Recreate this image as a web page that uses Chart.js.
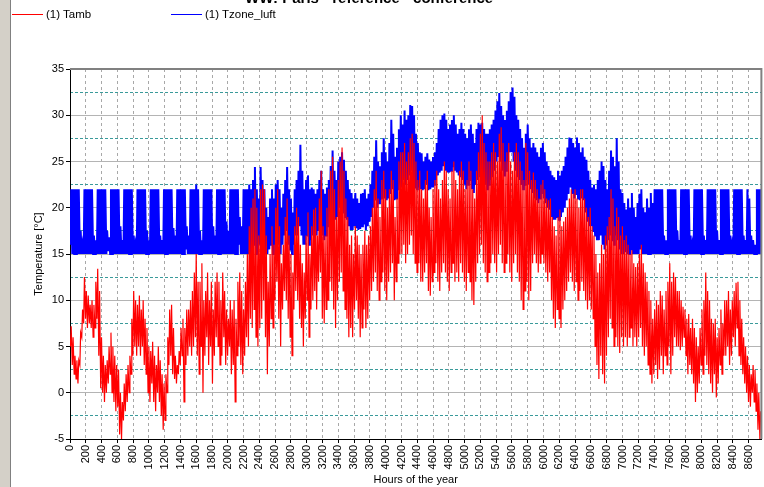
<!DOCTYPE html>
<html lang="en">
<head>
<meta charset="UTF-8">
<title>Paris - reference - conference</title>
<script src="https://cdn.jsdelivr.net/npm/chart.js"></script>
<style>
  body { margin: 0; background: #fff; font-family: "Liberation Sans", Arial, sans-serif; overflow: hidden; }
  #wrap { position: relative; width: 764px; height: 487px; overflow: hidden; }
  #side { position: absolute; left: 0; top: 0; width: 10px; height: 487px; background: #d4d0c8; border-right: 1px solid #808080; z-index: 2; }
  #title { position: absolute; left: 245px; top: -11px; font-weight: bold; font-size: 15px; white-space: nowrap; color: #000; }
  .leg { position: absolute; top: 8px; font-size: 11.5px; color: #000; white-space: nowrap; }
  canvas { position: absolute; left: 0; top: 0; }
</style>
</head>
<body>
<div id="wrap">
  <canvas id="chart" width="764" height="487"></canvas>
  <div id="side"></div>
  <div id="title">WW: Paris - reference - conference</div>
  <div class="leg" style="left:46px">(1) Tamb</div>
  <div class="leg" style="left:205px">(1) Tzone_luft</div>
</div>

<script>
  // daily low / high, one value per day (365 days)
  const tambLow = [
    5,3,2,1.5,1,3,6,7.5,8,7,
    7.5,7,6,7,8,4,0.5,0,-1,0,
    1,2,0,-1,-2,-1.5,-4.5,-5,-3,-2,
    -1,0,2,4,5,4,5,4,5,3,
    2,0,-1,1,-1,-2,0,-1,-2.5,-4,
    -3,0,3,4,2,1.5,1,2,3,4,
    -1,3,4,5,4,5,6,4,2,5,
    0,4,6,3,5,1,4,6,5,3,
    4,6,3,4,5,2,3,-1,4,5,
    3,2,4,6,5,8,7,9,6,5,
    7,8,10,6,2,5,8,7,10,12,
    8,5,9,11,10,8,6,4,9,11,
    10,8,7,5,8,10,6,9,10,11,
    9,12,13,8,7.5,9,10,12,11,9,
    7,10,12,13,11,9,8,6,7,6,
    9,10,8,6,7,9,7,8,10,11,
    12,13,11,10,12,13,11,10,12,13,
    14,10,12,14,15,15,16,14,15,16,
    17,15,14,13,14,12,12,13,14,11,
    10.5,12,13,14,12,11,13,14,13,12,
    11,13,14,12,13,12,14,13,12,11,
    13,12,10,9.5,12,14,15,16,14,13,
    12,13,14,15,14,13,15,16,14,13,
    14,15,13,12,14,15,13,12,10,9,
    11,12,10,11,14,15,14,13,14,15,
    14,13,12,13,10,8,7,9,8,7,
    9,10,11,12,13,12,11,12,10,11,
    12,11,10,9,10,9,8,5,3,1.5,
    4,2,1,4,6,8,7,5,6,5,
    4.3,6,5,6,5,6,7,5,6,5,
    6,7,5,4,5,3,2,1,2,3,
    1.5,2.5,4,2,4,3,5,2,4,6,
    5,5,4.6,5,6,4,2,3,2,1,
    -1,0,1,3,2,4,3,2,1,0,
    2,-0.5,1,3,2,4,4,5,3,4,
    6,5,7,4,3,2,1,0,-1,-1.5,
    0,-1,-2,-4,-5
  ];
  const tambHigh = [
    7.2,6,4,3.5,3.5,6.5,9,12.5,11,10.5,
    9.5,10,9.5,12,13.4,11,6,4,3,3.5,
    5,6.5,5,4,3,2.5,0,-1,1,2,
    3,4,8,11,10,9.5,10.5,9,10,8,
    7,5,4.5,5.5,4,3,5,3.5,2,1,
    2,6,9,9.5,7,4,3,4.5,7,8,
    7,9,9,10,11,13,15,12,12,14,
    10,11,13,10,12,9,12,13,12,10,
    13,11,9,8,10,9,10,8,12,13,
    11,9,12,15,18,20,21,22,20,17,
    22,22.5,22,17,12,15,18,16,20,22,
    18,14,16,19,21,17,15,13,18,20,
    19,16,14,13,17,19.5,15,18,19.8,20,
    17,21,24,18,17,20,22,24,25.5,22,
    19,23,25,26.5,24,21,19,16,17,15,
    18,17,16,15,16,17.5,16,17,18,20,
    22,24,21,19,23,24,22,20,22,24,
    23,19,21,25,26,26,27,25,26,27.5,
    28,27,25,23,24,22,21,23,24,20,
    19,22,23,24,22,21,23,25,24,22,
    21,24,25,23,22,24,25,24,22,23,
    25,24,22,21,24,26,28,30,27,26,
    25,25,26,27,26,25,28,28.7,27,25,
    26,27,25,24,26,27,26,25,24,23,
    27,26,24,23,23.8,23,22,21,22.5,23,
    22,21,20.8,21,19,18,17,19,19.8,18,
    18.5,19,20,21,22,21.5,22,21,20,22,
    22,21,20,19,20,18,17,15,13,14,
    16,15,17,18,19,22,21,18,20,19,
    17,18,16.5,17,16,15,15.4,14,13.6,14,
    15,16,14,13,12,11,10,8,9,10,
    9.5,11,10.5,9,11,12,14,12,13,12.5,
    11,11,10,9.3,9,8,8.5,7,8,7,
    6,5,7,9,10,13,11,10,8,7.5,
    8,6,7,9,7.5,10,10,11,9,10,
    11,11.9,12,10,8,6,5,4,3,2,
    3,2.5,1,0,-2
  ];

  // zone temperature: winter weeks (days 0-94), summer (95-307), winter weeks (308-364)
  const tzoneLowWinter1 = [
    16,15,15,15,15,15,15,
    15,15,15,15,15,15,15,
    15,15,15,15,15,15,15.3,
    15,15,15,15,15,15,15,
    15,15,15,15,15,15,15,
    15,15,15,15,15,15,15,
    15,15,15,15,15,15,15,
    15,15,15,15,15,15,15,
    15,15,15,15,15,15.5,15,
    15,15,15,15,15,15,15,
    15,15,15,15,15,15,15,
    15,15,15,15,15,15,15,
    15,15,15,15,15,16,15,
    15,15,15,15
  ];
  const tzoneHighWinter1 = [
    22,22,22,22,22,17.5,16,
    22,22,22,22,22,17,16.5,
    22,22,22,22,22,17.5,16.8,
    22,22,22,22,22,18,16.5,
    22,22,22,22,22,17,16,
    22,22,22,22,22,17.5,16.5,
    22,22,22,22,22,17,16.5,
    22,22,22,22,22,17.8,17,
    22,22,22,22,22,18,17,
    22,22,22,22.5,22,17.5,16.5,
    22,22,22,22,22,18,17,
    22,22,22,22,22,18.5,17.5,
    22,22,22,22,22,19,18,
    22,22,22,22.5
  ];
  const tzoneLowSummer = [
    15,15.5,16,15,15,16,17,16,15,15,
    15.5,16,15,16,17,16,15,16,17,17.5,
    16,15.5,15,16,17,17,18,17,16,16,
    17,16,16.5,17,16.5,17,17.5,18,17,16.5,
    17,18,18.7,19,18.5,18.7,19,20,20,19.5,
    19,18.7,18,17.6,17.6,18,17.8,17.6,17.7,18,
    18.2,17.6,18,18.5,19,20,20.8,20,20.5,21,
    21,21,20.8,21,21.5,22,20.8,21,22,22.5,
    22.2,23,22.5,23,23.5,24,23,22.2,22,22.2,
    22,21.9,22,22.5,21.9,22,22.3,22.5,23,23.5,
    23.8,24,24.5,24,23.8,23.8,24,24.5,24,23.8,
    23.5,23.3,23,22.5,22,22.5,23,22,21.6,22.5,
    23,23.3,23.5,23,22.5,22,22.5,23,23.3,24,
    25,25.5,25,24,23.5,24,25,26,26,25,
    24,23.3,23,22.5,22,22.5,23,22.5,22,21.6,
    21,20.8,20.5,21,21.6,21,20.5,20,19.8,19,
    18.7,18.7,19,18.7,19,19.5,20,20.8,21.5,22.2,
    21.5,21,21.5,21,20.8,21,20.8,19.5,18.5,18,
    18,17.5,17,16.5,16.5,17,16,15.5,16,16.5,
    17,16.5,16,17,16.5,15.5,15,15,15.2,15,
    15,15.5,15,15,15,15,15.5,15,15,15,
    15,15,15
  ];
  const tzoneHighSummer = [
    22,23,24.4,22,21,24.4,23,22,20,19,
    21,22,21,22.5,23,22,20,21.5,23,24.4,
    22,21,19.5,22,23,24,26.8,24,22,23,
    23.5,22,22.2,22,21.5,22,23,24,22,21.5,
    22.2,23,24.5,26.2,24,23,25,25.5,26,25.2,
    24,23,22,21.6,21,21.6,21,20.5,21.5,21.6,
    22,21,21.5,22.5,24,25.5,27.3,25,24.5,26,
    27.5,26,25,27,29.5,28,25.5,26.5,28.5,30,
    29,30.5,29.5,30,31.1,31,30,28,27,26,
    25.9,25,25.5,25.9,25.2,25,25.5,26,27,28.5,
    29.5,30,30.2,29.5,28.5,29,29.5,30,29,28,
    28.5,29.2,28.5,28,27.5,28.5,29,28,27,28.5,
    29.2,29,29.2,28.5,28,28,28.5,29,29.5,30.5,
    31.5,32.4,31,30,29.5,30.5,31.5,32.5,33,32,
    30,29.5,28.5,27.5,26.5,28,29,27.5,26.5,27,
    26.5,26,25.5,26.5,27,26,25,24.5,24,23.5,
    23.3,23,24,23.5,24,24.5,25.5,26.5,27.6,27.5,
    27,26.5,27.6,27,26,26.5,25.5,25.2,24,23,
    22.2,22.5,22,23,24,25,24.5,23,22,24,
    26.2,25.5,24.5,27.5,25,22,21.6,20.5,19.8,21,
    20,21.6,20,19,20.5,21.5,22,20,19.5,21,
    20,21.6,20.5
  ];
  const tzoneLowWinter2 = [
    15,15,15,15,15,15,15,
    15,15,15,15,15,15,15,
    15,15,15,15,15,15,15,
    15,15,15,15,15,15,15,
    15,15,15,15,15,15,15,
    15,15,15,15,15,15,15,
    15,15,15,15,15,15,15,
    15,15,15,15,15,15,15,15
  ];
  const tzoneHighWinter2 = [
    22,22,22,22,22,17,16.5,
    22,22,22,22,22,17.5,16.5,
    22,22,22,22,22,17,16,
    22,22,22,22,22,17,16.5,
    22,22,22,22,22,17.5,16.5,
    22,22,22,22,22,17,16,
    22,22,22,22,22,17,16.5,
    22,21,17,16.5,16,22,22,22
  ];
  const tzoneLow = [...tzoneLowWinter1, ...tzoneLowSummer, ...tzoneLowWinter2];
  const tzoneHigh = [...tzoneHighWinter1, ...tzoneHighSummer, ...tzoneHighWinter2];

  const xTicks = [0,200,400,600,800,1000,1200,1400,1600,1800,2000,2200,2400,2600,2800,3000,
    3200,3400,3600,3800,4000,4200,4400,4600,4800,5000,5200,5400,5600,5800,6000,6200,
    6400,6600,6800,7000,7200,7400,7600,7800,8000,8200,8400,8600];
  const dashedLines = [-2.5, 2.5, 7.5, 12.5, 17.5, 22.5, 27.5, 32.5];
  const lowHour = 5, highHour = 15; // hour of the day for the low and the high point

  [tambLow, tambHigh, tzoneLow, tzoneHigh].forEach((a, i) => {
    if (a.length !== 365) throw new Error('array ' + i + ' has ' + a.length + ' values');
  });

  function dailyPoints(low, high) {
    const pts = [];
    for (let d = 0; d < low.length; d++) {
      pts.push({ x: d * 24 + lowHour, y: low[d] });
      pts.push({ x: d * 24 + highHour, y: high[d] });
    }
    return pts;
  }

  // gray frame on top/right of the plot, plus the legend line swatches
  const framePlugin = {
    id: 'frame',
    afterDraw(chart) {
      const { ctx, chartArea: a } = chart;
      ctx.save();
      ctx.strokeStyle = '#808080';
      ctx.lineWidth = 2;
      ctx.beginPath();
      ctx.moveTo(a.left, a.top);
      ctx.lineTo(a.right, a.top);
      ctx.lineTo(a.right, a.bottom);
      ctx.stroke();
      ctx.fillStyle = chart.data.datasets[0].borderColor;
      ctx.fillRect(12, 14, 31, 1);
      ctx.fillStyle = chart.data.datasets[1].borderColor;
      ctx.fillRect(171, 14, 31, 1);
      ctx.restore();
    }
  };

  const font = { family: '"Liberation Sans", Arial, sans-serif', size: 11 };

  new Chart(document.getElementById('chart'), {
    type: 'line',
    data: {
      datasets: [
        { label: '(1) Tamb', data: dailyPoints(tambLow, tambHigh), borderColor: '#ff0000', borderWidth: 1.2, pointRadius: 0, fill: false, tension: 0 },
        { label: '(1) Tzone_luft', data: dailyPoints(tzoneLow, tzoneHigh), borderColor: '#0000ff', borderWidth: 2, pointRadius: 0, fill: false, tension: 0 }
      ]
    },
    options: {
      responsive: false,
      animation: false,
      parsing: false,
      layout: { padding: { left: 32, right: 2, top: 69, bottom: 0 } },
      plugins: { legend: { display: false }, tooltip: { enabled: false } },
      scales: {
        x: {
          type: 'linear', min: 0, max: 8760,
          afterBuildTicks: s => { s.ticks = xTicks.map(v => ({ value: v })); },
          ticks: { minRotation: 90, maxRotation: 90, autoSkip: false, color: '#000', font: font, padding: 2, callback: v => String(v) },
          grid: { color: '#a8a8a8', tickColor: '#000', tickLength: 4 },
          border: { color: '#000', dash: [3, 3] },
          title: { display: true, text: 'Hours of the year', color: '#000', font: font, padding: { top: 0, bottom: 0 } },
          afterFit: s => { s.height = 48; }
        },
        y: {
          min: -5, max: 35,
          ticks: { stepSize: 5, color: '#000', font: font, padding: 2 },
          grid: { color: '#b4b4b4', tickColor: '#000', tickLength: 4 },
          border: { color: '#000' },
          title: { display: true, text: 'Temperature [°C]', color: '#000', font: font, padding: { top: 0, bottom: 0 } },
          afterFit: s => { s.width = 38; }
        },
        y2: {
          position: 'left', min: -5, max: 35,
          afterBuildTicks: s => { s.ticks = dashedLines.map(v => ({ value: v })); },
          ticks: { display: false },
          grid: { color: '#3a9a9a', drawTicks: false },
          border: { display: false, dash: [3, 2] },
          afterFit: s => { s.width = 0; }
        }
      }
    },
    plugins: [framePlugin]
  });
</script>
</body>
</html>
